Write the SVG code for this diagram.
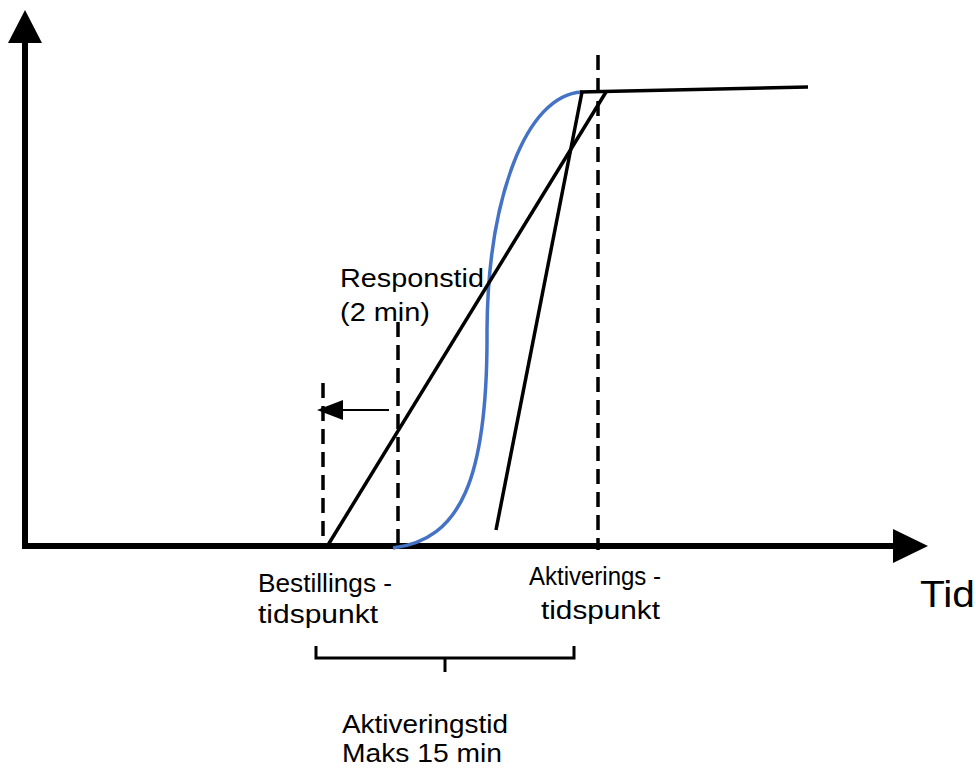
<svg xmlns="http://www.w3.org/2000/svg" width="976" height="771" viewBox="0 0 976 771">
<style>
.t{font-family:"Liberation Sans","Open Sans",sans-serif;font-size:25px;fill:#000}
.dash{stroke:#000;stroke-width:3.5;stroke-dasharray:15 8;fill:none}
.ln{stroke:#000;stroke-width:3.5;fill:none}
</style>
<rect width="976" height="771" fill="#fff"/>
<g id="axes">
<line x1="25" y1="548" x2="25" y2="40" stroke="#000" stroke-width="6"/>
<polygon points="25,10 8,43 42,43" fill="#000"/>
<line x1="22" y1="546" x2="896" y2="546" stroke="#000" stroke-width="6"/>
<polygon points="928,546 893,529 893,563" fill="#000"/>
</g>
<g id="connectors">
<line class="dash" x1="323" y1="383" x2="323" y2="540"/>
<line class="dash" x1="398" y1="322" x2="398" y2="549"/>
<line class="dash" x1="598" y1="55" x2="598" y2="550"/>
<line x1="389" y1="410" x2="340" y2="410" stroke="#000" stroke-width="2"/>
<polygon points="317,410 343,400 343,420" fill="#000"/>
<path d="M393 548 C 460 540, 488 480, 487 330 C 488 200, 525 95, 582 92" fill="none" stroke="#4472C4" stroke-width="3.5"/>
<line class="ln" x1="328" y1="545" x2="606" y2="92"/>
<line class="ln" x1="496" y1="530" x2="582" y2="92"/>
<line class="ln" x1="580" y1="92" x2="808" y2="87"/>
<path d="M316 646 V658 H574 V646 M445 658 V672" fill="none" stroke="#000" stroke-width="3"/>
</g>
<g id="labels">
<text class="t" x="340" y="287" textLength="144" lengthAdjust="spacingAndGlyphs">Responstid</text>
<text class="t" x="340" y="321" textLength="90" lengthAdjust="spacingAndGlyphs">(2 min)</text>
<text class="t" x="258" y="592" textLength="134" lengthAdjust="spacingAndGlyphs">Bestillings -</text>
<text class="t" x="258" y="623" textLength="120" lengthAdjust="spacingAndGlyphs">tidspunkt</text>
<text class="t" x="529" y="585" textLength="132" lengthAdjust="spacingAndGlyphs">Aktiverings -</text>
<text class="t" x="541" y="619" textLength="119" lengthAdjust="spacingAndGlyphs">tidspunkt</text>
<text class="t" x="920" y="607" style="font-size:37px" textLength="55" lengthAdjust="spacingAndGlyphs">Tid</text>
<text class="t" x="342" y="733" textLength="166" lengthAdjust="spacingAndGlyphs">Aktiveringstid</text>
<text class="t" x="342" y="762" textLength="160" lengthAdjust="spacingAndGlyphs">Maks 15 min</text>
</g>
</svg>
